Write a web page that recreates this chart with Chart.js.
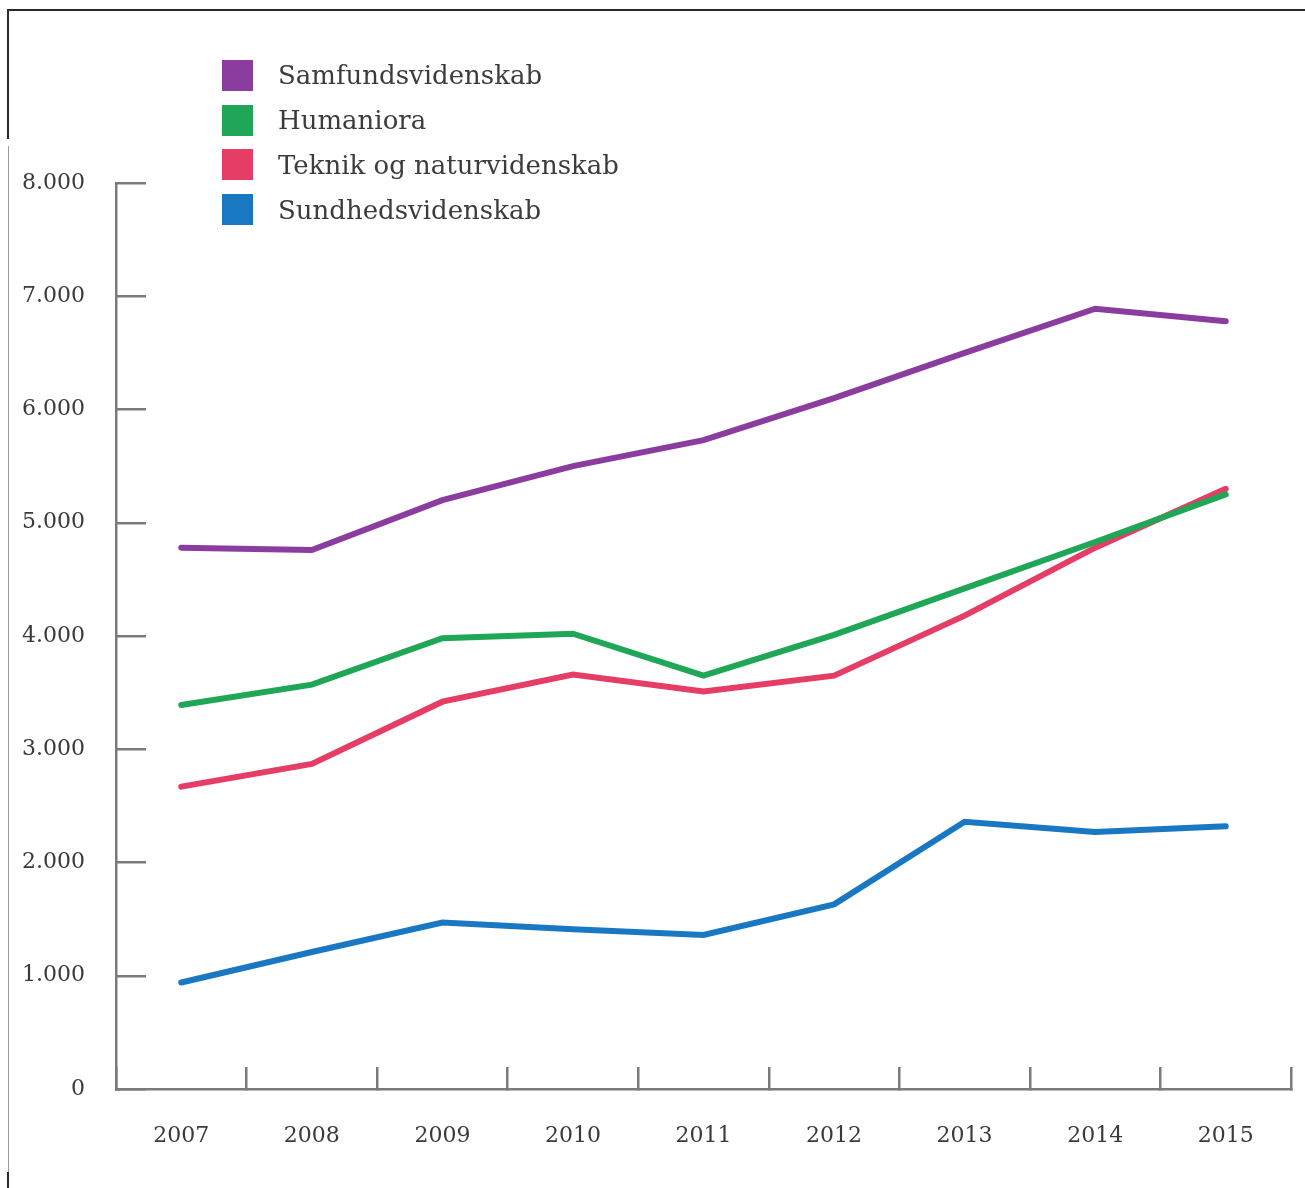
<!DOCTYPE html>
<html lang="da">
<head>
  <meta charset="UTF-8" />
  <title>Studerende fordelt på hovedområde</title>
  <script src="https://cdn.jsdelivr.net/npm/chart.js@4.4.1/dist/chart.umd.min.js"></script>
  <style>
    * { box-sizing: border-box; margin: 0; padding: 0; }
    body {
      width: 1305px;
      height: 1188px;
      background: #fff;
      font-family: "DejaVu Serif", serif;
      color: #3a3a3a;
      position: relative;
      overflow: hidden;
    }
    .wrap {
      position: absolute;
      left: 0; top: 0;
      width: 1305px;
      height: 1188px;
    }
    .frame-top { position: absolute; left: 7px; top: 9px; width: 1298px; height: 2px; background: #2a2a2a; }
    .frame-left { position: absolute; left: 7px; top: 9px; width: 2px; height: 130px; background: #2a2a2a; }
    .frame-left2 { position: absolute; left: 8px; top: 146px; width: 1px; height: 1030px; background: #9a9a9a; }
    .frame-left3 { position: absolute; left: 7px; top: 1172px; width: 2px; height: 16px; background: #2a2a2a; }
    .legend {
      position: absolute;
      left: 222px;
      top: 53px;
    }
    .legend-row {
      display: flex;
      align-items: center;
      height: 44.8px;
      font-size: 26px;
      color: #3c3c3c;
    }
    .legend-box {
      width: 31px;
      height: 31px;
      margin-right: 25px;
    }
  </style>
</head>
<body>
  <div class="frame-top"></div>
  <div class="frame-left"></div>
  <div class="frame-left2"></div>
  <div class="frame-left3"></div>

  <div class="wrap">
    <canvas id="chart" width="1305" height="1188"></canvas>
  </div>
  <div class="legend" id="legend"></div>

  <script>
    const years = ['2007', '2008', '2009', '2010', '2011', '2012', '2013', '2014', '2015'];
    const seriesNames = ['Samfundsvidenskab', 'Humaniora', 'Teknik og naturvidenskab', 'Sundhedsvidenskab'];
    const seriesColors = ['#8a3d9f', '#1fa757', '#e53d66', '#1a78c3'];

    const samfund = [4780, 4760, 5200, 5500, 5730, 6100, 6500, 6890, 6780];
    const humaniora = [3390, 3570, 3980, 4020, 3650, 4010, 4420, 4830, 5250];
    const teknik = [2670, 2870, 3420, 3660, 3510, 3650, 4180, 4780, 5300];
    const sundhed = [940, 1210, 1470, 1410, 1360, 1630, 2360, 2270, 2320];

    const yTicks = [0, 1000, 2000, 3000, 4000, 5000, 6000, 7000, 8000];

    const axisColor = '#7a7a7a';
    const allSeries = [samfund, humaniora, teknik, sundhed];

    // legend (html, built from the arrays)
    const legend = document.getElementById('legend');
    seriesNames.forEach((name, i) => {
      const row = document.createElement('div');
      row.className = 'legend-row';
      const box = document.createElement('span');
      box.className = 'legend-box';
      box.style.background = seriesColors[i];
      const txt = document.createElement('span');
      txt.textContent = name;
      row.appendChild(box);
      row.appendChild(txt);
      legend.appendChild(row);
    });

    const datasets = allSeries.map((data, i) => ({
      label: seriesNames[i],
      data: data,
      borderColor: seriesColors[i],
      backgroundColor: seriesColors[i],
      borderWidth: 6,
      borderCapStyle: 'round',
      borderJoinStyle: 'miter',
      tension: 0,
      pointRadius: 0,
      fill: false
    }));

    new Chart(document.getElementById('chart'), {
      type: 'line',
      data: { labels: years, datasets: datasets },
      options: {
        responsive: false,
        animation: false,
        layout: { padding: { left: 0, right: 14, top: 183, bottom: 0 } },
        plugins: {
          legend: { display: false },
          tooltip: { enabled: false }
        },
        scales: {
          x: {
            type: 'category',
            offset: true,
            afterFit: s => {
              s.height = 99;
              s.paddingLeft = 0;   // label padding would otherwise push the right end in
              s.paddingRight = 0;
            },
            border: { display: true, color: axisColor, width: 2.5 },
            grid: {
              offset: true,
              drawOnChartArea: false,
              drawTicks: true,
              tickLength: -22,
              color: axisColor,
              lineWidth: 2.5
            },
            ticks: {
              autoSkip: false,
              maxRotation: 0,
              padding: 56,
              color: '#3a3a3a',
              font: { family: 'DejaVu Serif', size: 22 }
            }
          },
          y: {
            min: 0,
            max: 8000,
            afterFit: s => { s.width = 116; },
            afterBuildTicks: s => { s.ticks = yTicks.map(v => ({ value: v })); },
            border: { display: true, color: axisColor, width: 2.5 },
            grid: {
              drawOnChartArea: false,
              drawTicks: true,
              tickLength: -30,
              color: axisColor,
              lineWidth: 2.5
            },
            ticks: {
              padding: 61,
              color: '#3a3a3a',
              font: { family: 'DejaVu Serif', size: 22 },
              callback: v => v === 0 ? '0' : v.toLocaleString('da-DK')
            }
          }
        }
      }
    });
  </script>
</body>
</html>
